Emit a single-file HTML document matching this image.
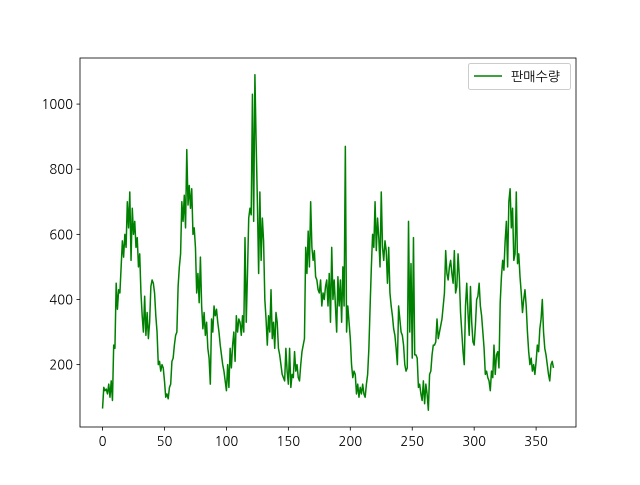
<!DOCTYPE html>
<html><head><meta charset="utf-8"><style>
html,body{margin:0;padding:0;background:#fff;}
svg text{font-family:"NanumGothic","Liberation Sans","Noto Sans CJK KR",sans-serif;font-size:13px;fill:#000;}
</style></head><body>
<svg id="chart" width="640" height="480" viewBox="0 0 640 480">
<rect width="640" height="480" fill="#fff"/>
<g id="grid"></g>
<polyline id="line" fill="none" stroke="#008000" stroke-width="1.5" stroke-linejoin="round"/>
<rect x="80" y="58" width="496" height="369" fill="none" stroke="#000" stroke-width="0.8"/>
<g id="ticks"></g>
<g>
<rect x="468.5" y="63.5" width="102" height="26" rx="2" fill="#fff" stroke="#ccc"/>
<line x1="474" y1="76" x2="502" y2="76" stroke="#008000" stroke-width="1.5"/>
<text x="511" y="81">판매수량</text>
</g>
</svg>
<script>
const xTicks = [0,50,100,150,200,250,300,350];
const yTicks = [200,400,600,800,1000];
const sales = [
65,130,120,125,110,140,100,150,90,
260,250,
450,370,430,420,
500,580,530,600,560,700,
620,730,520,680,
600,640,560,590,500,540,
420,350,300,410,
290,360,280,330,
440,460,450,420,350,300,
200,210,180,200,190,150,
100,110,95,130,140,210,
220,260,290,300,440,500,
540,700,640,720,620,860,
690,750,680,740,600,620,
560,420,480,390,530,380,
310,360,290,330,250,220,140,340,300,380,
350,370,330,300,260,230,200,180,150,120,
200,130,250,190,260,300,
210,350,300,340,330,290,350,300,
590,330,480,650,680,660,1030,640,1090,880,700,480,730,520,650,580,400,340,260,350,300,430,280,330,250,360,330,250,
230,200,170,160,150,250,180,140,250,130,170,160,
240,180,200,160,150,200,240,260,
280,560,480,610,
500,700,560,520,550,470,
460,430,420,460,380,420,400,440,
460,380,480,330,560,400,460,380,
300,470,380,460,330,500,380,
870,
300,380,330,280,200,160,
180,170,110,140,100,130,110,140,110,100,140,170,
250,380,500,600,560,700,
550,650,590,500,730,560,
520,580,550,450,560,420,
380,350,310,290,250,200,
380,340,300,290,260,200,180,190,
640,300,510,220,590,230,
230,220,130,140,110,90,
150,80,140,110,60,
170,180,230,260,260,270,340,
280,300,320,340,380,420,550,480,460,500,
520,480,450,550,420,440,
540,
470,360,300,240,200,380,
450,360,290,440,330,270,
260,320,400,410,450,380,
350,300,250,170,180,160,
150,120,180,160,260,170,
230,240,190,390,470,520,
490,580,640,500,700,740,
620,680,520,540,730,510,
540,470,420,360,400,430,
380,300,240,200,220,180,
200,170,210,260,240,310,
340,400,300,250,230,200,
170,150,200,210,190
];
const L=80,R=576,T=58,B=427;
const n=sales.length;
const xMin=-0.05*(n-1), xMax=(n-1)*1.05;
const dMin=Math.min(...sales), dMax=Math.max(...sales), pad=(dMax-dMin)*0.05;
const yMin=dMin-pad, yMax=dMax+pad;
const sx=v=>L+(v-xMin)/(xMax-xMin)*(R-L);
const sy=v=>B-(v-yMin)/(yMax-yMin)*(B-T);
const NS="http://www.w3.org/2000/svg";
document.getElementById('line').setAttribute('points',sales.map((v,i)=>sx(i).toFixed(2)+','+sy(v).toFixed(2)).join(' '));
const tg=document.getElementById('ticks');
xTicks.forEach(t=>{
  const x=sx(t);
  const ln=document.createElementNS(NS,'line');
  ln.setAttribute('x1',x);ln.setAttribute('x2',x);ln.setAttribute('y1',B);ln.setAttribute('y2',B+3.5);
  ln.setAttribute('stroke','#000');ln.setAttribute('stroke-width','0.8');
  
  
  tg.appendChild(ln);
  const tx=document.createElementNS(NS,'text');
  tx.setAttribute('x',x);tx.setAttribute('y',B+19);tx.setAttribute('text-anchor','middle');
  tx.textContent=t;
  
  
  tg.appendChild(tx);
});
yTicks.forEach(t=>{
  const y=sy(t);
  const ln=document.createElementNS(NS,'line');
  ln.setAttribute('x1',L-3.5);ln.setAttribute('x2',L);ln.setAttribute('y1',y);ln.setAttribute('y2',y);
  ln.setAttribute('stroke','#000');ln.setAttribute('stroke-width','0.8');
  
  
  tg.appendChild(ln);
  const tx=document.createElementNS(NS,'text');
  tx.setAttribute('x',L-7);tx.setAttribute('y',y+5);tx.setAttribute('text-anchor','end');
  tx.textContent=t;
  
  
  tg.appendChild(tx);
});
</script>
</body></html>
